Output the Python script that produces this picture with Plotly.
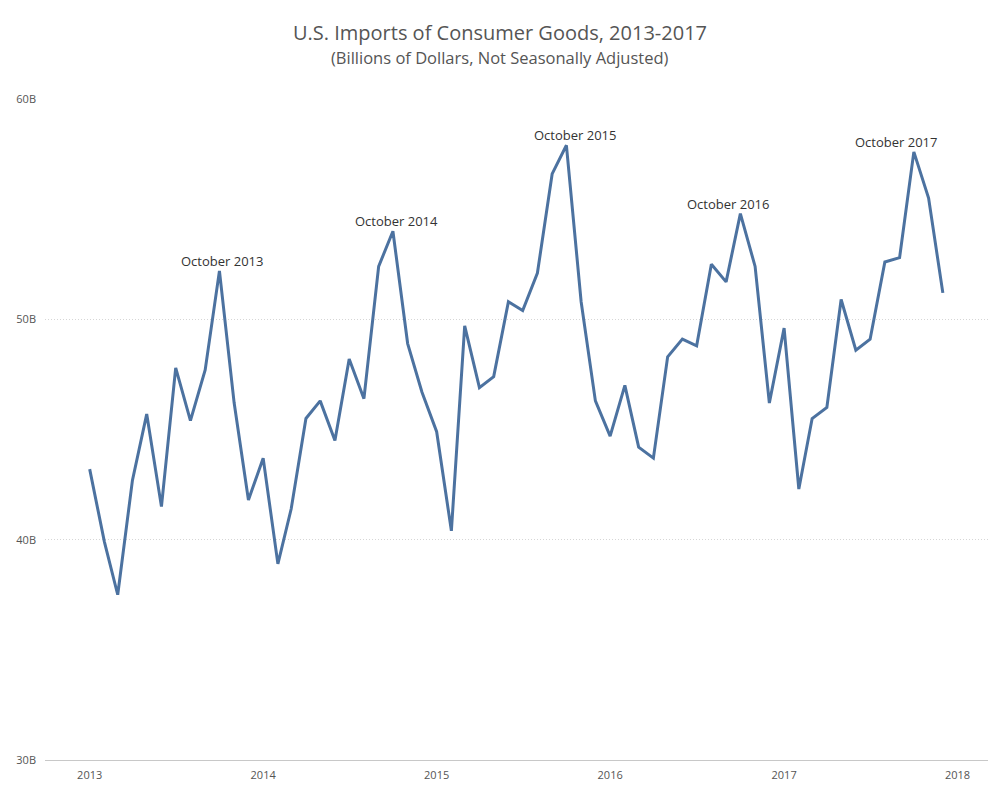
import plotly.graph_objects as go

# monthly imports of consumer goods, billions of dollars (Jan 2013 - Dec 2017)
months = [f"{y}-{m:02d}-01" for y in range(2013, 2018) for m in range(1, 13)]
imports_2013 = [43.2, 39.9, 37.5, 42.7, 45.7, 41.5, 47.8, 45.4, 47.7, 52.2, 46.2, 41.8]
imports_2014 = [43.7, 38.9, 41.4, 45.5, 46.3, 44.5, 48.2, 46.4, 52.4, 54.0, 48.9, 46.7]
imports_2015 = [44.9, 40.4, 49.7, 46.9, 47.4, 50.8, 50.4, 52.1, 56.6, 57.9, 50.8, 46.3]
imports_2016 = [44.7, 47.0, 44.2, 43.7, 48.3, 49.1, 48.8, 52.5, 51.7, 54.8, 52.4, 46.2]
imports_2017 = [49.6, 42.3, 45.5, 46.0, 50.9, 48.6, 49.1, 52.6, 52.8, 57.6, 55.5, 51.2]
imports = imports_2013 + imports_2014 + imports_2015 + imports_2016 + imports_2017

y_ticks = [30, 40, 50, 60]
y_labels = ["30B", "40B", "50B", "60B"]
year_ticks = [f"{y}-01-01" for y in range(2013, 2019)]

TEXT_FONT = "Open Sans"

# the page body adds an 8px margin, so the figure is drawn 16px smaller
FIG_W, FIG_H = 984, 784
MARGIN = dict(l=37, r=4, t=91, b=32)


def main():
    fig = go.Figure()
    fig.add_trace(go.Scatter(
        x=months,
        y=imports,
        mode="lines",
        line=dict(color="#4c72a0", width=3),
        hoverinfo="x+y",
    ))

    # label the October peak of each year
    label_shift = [3, 4, 9, -12, -18]
    for i, year in enumerate(range(2013, 2018)):
        idx = months.index(f"{year}-10-01")
        fig.add_annotation(
            x=months[idx], y=imports[idx],
            text=f"October {year}",
            showarrow=False,
            yanchor="bottom", yshift=-1, xshift=label_shift[i],
            font=dict(family=TEXT_FONT, size=13, color="#333333"),
        )

    # subtitle centred on the whole figure, like the title
    plot_w = FIG_W - MARGIN["l"] - MARGIN["r"]
    plot_h = FIG_H - MARGIN["t"] - MARGIN["b"]
    fig.add_annotation(
        x=(FIG_W / 2 - MARGIN["l"]) / plot_w,
        y=(FIG_H - MARGIN["b"] - 49) / plot_h,
        xref="paper", yref="paper",
        text="(Billions of Dollars, Not Seasonally Adjusted)",
        showarrow=False, xanchor="center", yanchor="middle",
        font=dict(family=TEXT_FONT, size=16.5, color="#555555"),
    )

    fig.update_layout(
        width=FIG_W, height=FIG_H,
        paper_bgcolor="white", plot_bgcolor="white",
        margin=MARGIN,
        showlegend=False,
        title=dict(
            text="U.S. Imports of Consumer Goods, 2013-2017",
            x=0.5, xanchor="center", y=1 - 25 / FIG_H, yanchor="middle",
            font=dict(family=TEXT_FONT, size=20, color="#555555"),
        ),
        xaxis=dict(
            range=["2012-09-29", "2018-03-06"],
            tickvals=year_ticks,
            tickformat="%Y",
            showgrid=False, zeroline=False,
            showline=True, linecolor="#c8c8c8", linewidth=1,
            ticks="", ticklabelstandoff=5,
            tickfont=dict(family=TEXT_FONT, size=11, color="#555555"),
        ),
        yaxis=dict(
            range=[30, 60],
            tickvals=y_ticks,
            ticktext=y_labels,
            showgrid=True, gridcolor="#d6d6d6", griddash="1px,2px", gridwidth=1,
            zeroline=False, showline=False, ticks="", ticklabelstandoff=8,
            tickfont=dict(family=TEXT_FONT, size=11, color="#555555"),
        ),
    )

    fig.write_html("out.html")


if __name__ == "__main__":
    main()
